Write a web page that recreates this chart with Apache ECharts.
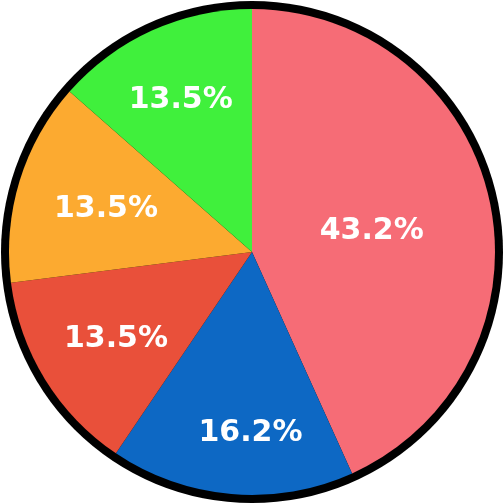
<!DOCTYPE html>
<html>
<head>
<meta charset="utf-8">
<script src="https://cdn.jsdelivr.net/npm/echarts@6/dist/echarts.min.js"></script>
<style>
  html, body { margin: 0; padding: 0; background: #fff; }
  #chart { width: 504px; height: 504px; }
</style>
</head>
<body>
<div id="chart"></div>
<script>
// slices clockwise from 12 o'clock, values in percent
const names = ['A', 'B', 'C', 'D', 'E']
const shares = [43.2, 16.2, 13.5, 13.5, 13.5]
const colors = ['#f66c76', '#0d68c4', '#e9503a', '#fcaa30', '#40f03c']
// nudge of each label away from the default inner spot
const labelShift = [[-2, 5], [9, 57], [-30, 22], [-27, -6], [-20, -38]]

let chart = echarts.init(document.getElementById('chart'))
let option = {
  animation: false,
  series: [
    {
      // black outline
      type: 'pie',
      center: [252, 252],
      radius: [0, 251],
      silent: true,
      label: { show: false },
      labelLine: { show: false },
      itemStyle: { color: '#000' },
      data: [{ value: 1, name: '' }],
      z: 1
    },
    {
      type: 'pie',
      center: [252, 252],
      radius: [0, 243],
      startAngle: 90,
      clockwise: true,
      z: 2,
      label: {
        show: true,
        position: 'inner',
        formatter: '{c}%',
        color: '#fff',
        fontSize: 30,
        fontWeight: 'bold',
        fontFamily: 'DejaVu Sans'
      },
      labelLine: { show: false },
      itemStyle: { borderWidth: 0 },
      data: names.map((n, i) => ({
        name: n,
        value: shares[i],
        itemStyle: { color: colors[i] },
        label: { offset: labelShift[i] }
      }))
    }
  ]
}
chart.setOption(option)
</script>
</body>
</html>
